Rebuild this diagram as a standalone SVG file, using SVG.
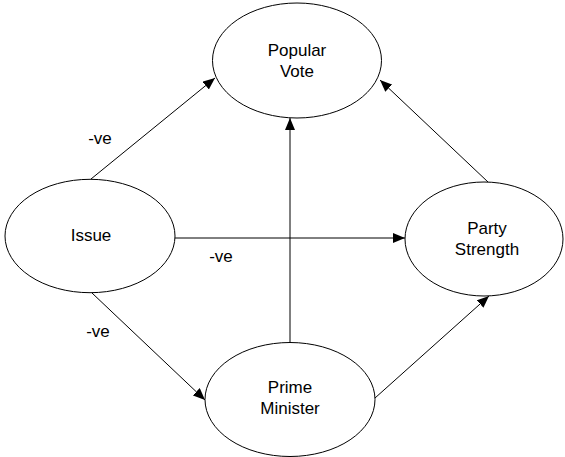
<svg xmlns="http://www.w3.org/2000/svg" width="565" height="457" viewBox="0 0 565 457">
<style>
.node ellipse{fill:#fff;stroke:#000;stroke-width:1}
text{font-family:"Liberation Sans",Arial,sans-serif;font-size:17px;fill:#000;text-anchor:middle}
.edge{stroke:#000;stroke-width:1;fill:none;marker-end:url(#arr)}
</style>
<defs>
<marker id="arr" viewBox="0 0 12 10" refX="12" refY="5" markerWidth="12" markerHeight="10" markerUnits="userSpaceOnUse" orient="auto">
<path d="M0,0 L12,5 L0,10 Z" fill="#000"/>
</marker>
</defs>
<rect width="565" height="457" fill="#fff"/>
<g id="connectors">
<line class="edge" x1="91" y1="179" x2="215" y2="78"/>
<line class="edge" x1="175" y1="238" x2="405" y2="238"/>
<line class="edge" x1="92" y1="293" x2="205" y2="400"/>
<line class="edge" x1="290" y1="342" x2="290" y2="118"/>
<line class="edge" x1="375" y1="398" x2="489" y2="296"/>
<line class="edge" x1="488" y1="182" x2="380" y2="80"/>
<text x="100" y="144">-ve</text>
<text x="221" y="262">-ve</text>
<text x="98" y="337">-ve</text>
</g>
<g id="popular-vote" class="node">
<ellipse cx="297" cy="60.5" rx="84.5" ry="57.5"/>
<text x="297" y="56">Popular</text>
<text x="297" y="77">Vote</text>
</g>
<g id="issue" class="node">
<ellipse cx="90" cy="236" rx="85" ry="56.7"/>
<text x="91" y="241">Issue</text>
</g>
<g id="party-strength" class="node">
<ellipse cx="484" cy="239" rx="79" ry="57"/>
<text x="487" y="234">Party</text>
<text x="487" y="255">Strength</text>
</g>
<g id="prime-minister" class="node">
<ellipse cx="290" cy="399.5" rx="85" ry="57"/>
<text x="290" y="393">Prime</text>
<text x="290" y="414">Minister</text>
</g>
</svg>
